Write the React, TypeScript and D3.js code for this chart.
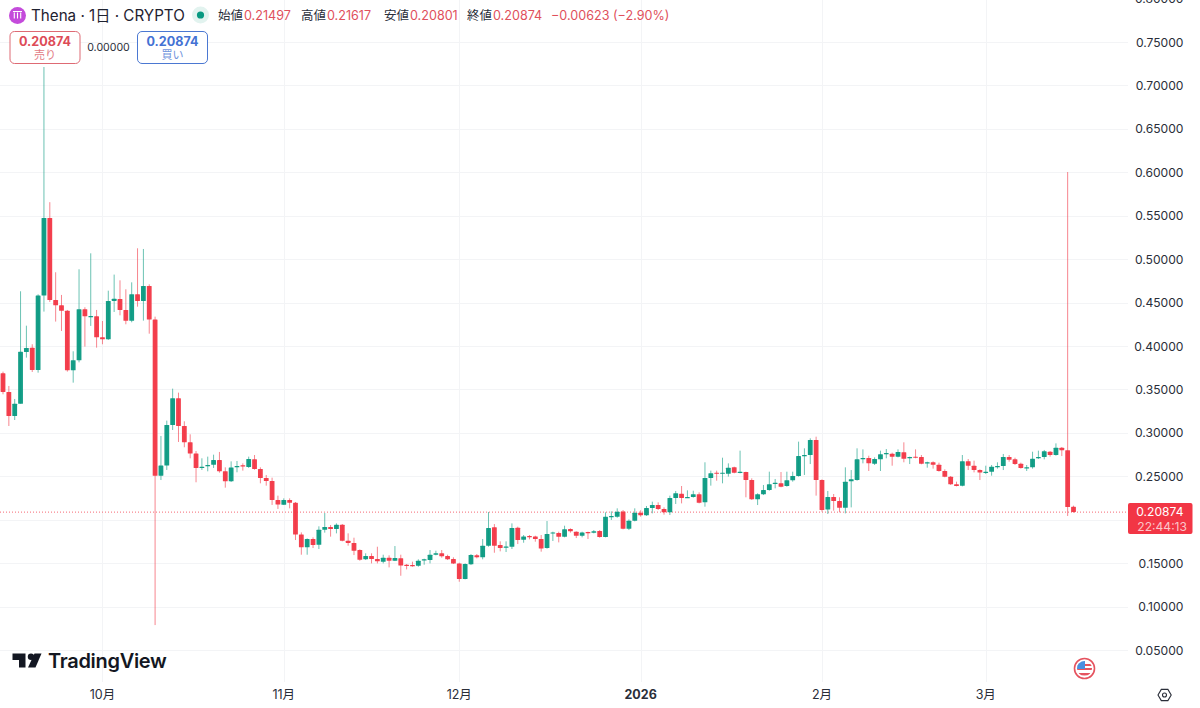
import React from "react";
import * as d3 from "d3";

const opens = [
.3686,.3471,.3194,.3336,.3931,.3981,.3724,.4580,.5474,.4530,.4469,.4407,.3720,.3835,.4423,.4338,.4342,.4100,.4077,.4519,
.4541,.4415,.4292,.4595,.4519,.4691,.4304,.2507,.2623,.3091,.3398,.3079,.2891,.2761,.2596,.2615,.2634,.2688,.2557,.2442,
.2603,.2626,.2607,.2695,.2584,.2480,.2446,.2227,.2173,.2227,.2196,.1831,.1682,.1778,.1712,.1885,.1916,.1893,.1943,.1758,
.1732,.1651,.1544,.1582,.1547,.1517,.1563,.1528,.1555,.1482,.1478,.1471,.1532,.1536,.1597,.1613,.1582,.1547,.1497,.1317,
.1486,.1590,.1567,.1701,.1912,.1709,.1678,.1689,.1908,.1770,.1812,.1808,.1778,.1674,.1847,.1847,.1805,.1893,.1862,.1816,
.1858,.1851,.1870,.1801,.2035,.2035,.2096,.1897,.1989,.2081,.2050,.2135,.2169,.2123,.2085,.2250,.2300,.2254,.2261,.2292,
.2200,.2480,.2542,.2534,.2530,.2603,.2545,.2549,.2457,.2235,.2292,.2342,.2419,.2419,.2388,.2453,.2503,.2733,.2745,.2918,
.2457,.2119,.2261,.2215,.2139,.2442,.2457,.2703,.2710,.2645,.2695,.2760,.2760,.2726,.2776,.2710,.2726,.2722,.2649,.2661,
.2634,.2561,.2496,.2407,.2392,.2672,.2622,.2572,.2545,.2553,.2607,.2618,.2722,.2695,.2645,.2595,.2603,.2707,.2722,.2783,
.2745,.2829,.2799,.21497];
const highs = [
.3705,.3540,.3390,.4630,.4234,.4020,.4595,.7212,.5656,.4849,.4588,.4415,.3939,.4883,.4446,.5067,.4415,.4288,.4637,.4822,
.4756,.4653,.4733,.5125,.5117,.4710,.4338,.2964,.3141,.3509,.3463,.3133,.2983,.2791,.2707,.2726,.2749,.2780,.2603,.2672,
.2676,.2649,.2726,.2745,.2603,.2515,.2484,.2277,.2246,.2246,.2204,.1854,.1785,.1797,.1924,.2077,.1939,.1958,.1950,.1843,
.1793,.1659,.1613,.1613,.1689,.1597,.1590,.1697,.1597,.1490,.1517,.1544,.1551,.1651,.1643,.1651,.1597,.1567,.1505,.1497,
.1605,.1605,.1778,.2089,.1950,.1751,.1751,.1958,.1920,.1824,.1824,.1816,.1824,.1985,.1862,.1862,.1931,.1901,.1866,.1862,
.1862,.1881,.1881,.2085,.2096,.2131,.2112,.2004,.2131,.2108,.2158,.2208,.2200,.2142,.2277,.2331,.2388,.2338,.2334,.2315,
.2661,.2565,.2565,.2714,.2649,.2611,.2795,.2553,.2476,.2304,.2400,.2553,.2469,.2549,.2553,.2553,.2899,.2822,.2937,.2956,
.2465,.2331,.2296,.2258,.2603,.2572,.2822,.2810,.2737,.2718,.2795,.2814,.2772,.2810,.2891,.2726,.2810,.2745,.2668,.2672,
.2657,.2580,.2503,.2438,.2745,.2699,.2680,.2580,.2622,.2630,.2661,.2757,.2745,.2714,.2657,.2630,.2783,.2795,.2803,.2791,
.2879,.2837,.6003,.21617];
const lows = [
.3444,.3079,.3148,.3336,.3866,.3701,.3693,.4396,.4507,.4281,.4173,.3705,.3578,.3812,.3993,.4231,.3981,.4020,.4070,.4392,
.4353,.4250,.4273,.4453,.4292,.4142,.0787,.2457,.2573,.3033,.2895,.2834,.2707,.2431,.2573,.2557,.2596,.2542,.2369,.2434,
.2546,.2565,.2596,.2576,.2419,.2392,.2170,.2124,.2169,.2131,.1766,.1597,.1597,.1674,.1663,.1851,.1805,.1843,.1751,.1701,
.1593,.1528,.1536,.1497,.1497,.1497,.1451,.1524,.1355,.1428,.1459,.1459,.1482,.1497,.1590,.1563,.1536,.1490,.1286,.1313,
.1478,.1555,.1544,.1689,.1620,.1636,.1628,.1663,.1720,.1735,.1774,.1747,.1632,.1666,.1755,.1739,.1797,.1851,.1789,.1797,
.1778,.1843,.1793,.1797,.1997,.2023,.1889,.1881,.1981,.2035,.2043,.2073,.2112,.2058,.2054,.2181,.2188,.2250,.2254,.2188,
.2150,.2392,.2449,.2419,.2496,.2534,.2534,.2258,.2227,.2169,.2284,.2334,.2361,.2373,.2380,.2438,.2496,.2515,.2641,.2277,
.2093,.2066,.2104,.2085,.2073,.2142,.2449,.2649,.2561,.2630,.2561,.2707,.2622,.2718,.2661,.2641,.2707,.2638,.2599,.2588,
.2553,.2488,.2400,.2384,.2384,.2572,.2545,.2457,.2526,.2507,.2588,.2572,.2668,.2630,.2588,.2561,.2588,.2699,.2695,.2726,
.2737,.2733,.2043,.20801];
const closes = [
.3471,.3194,.3336,.3935,.3977,.3724,.4580,.5474,.4530,.4469,.4407,.3720,.3835,.4423,.4342,.4346,.4100,.4077,.4519,.4545,
.4415,.4292,.4595,.4519,.4691,.4304,.2507,.2623,.3091,.3398,.3079,.2891,.2761,.2596,.2611,.2630,.2688,.2557,.2442,.2600,
.2619,.2619,.2699,.2584,.2480,.2446,.2227,.2174,.2227,.2196,.1831,.1682,.1778,.1709,.1885,.1916,.1893,.1943,.1758,.1732,
.1643,.1540,.1582,.1547,.1521,.1563,.1528,.1559,.1474,.1474,.1471,.1528,.1544,.1597,.1613,.1578,.1544,.1497,.1317,.1490,
.1593,.1567,.1701,.1904,.1701,.1674,.1693,.1904,.1766,.1808,.1797,.1778,.1670,.1835,.1854,.1805,.1889,.1866,.1816,.1854,
.1851,.1866,.1801,.2035,.2043,.2093,.1897,.1989,.2081,.2050,.2135,.2169,.2123,.2085,.2250,.2304,.2250,.2261,.2292,.2196,
.2480,.2534,.2534,.2542,.2599,.2542,.2553,.2457,.2235,.2292,.2342,.2407,.2426,.2380,.2453,.2503,.2733,.2745,.2918,.2457,
.2112,.2261,.2215,.2139,.2438,.2465,.2695,.2710,.2649,.2699,.2753,.2768,.2726,.2780,.2703,.2722,.2718,.2645,.2661,.2634,
.2561,.2496,.2407,.2388,.2672,.2622,.2572,.2545,.2553,.2611,.2618,.2722,.2691,.2641,.2595,.2603,.2703,.2722,.2787,.2745,
.2829,.2799,.2146,.20874];

const priceTicks = [0.05,0.1,0.15,0.2,0.25,0.3,0.35,0.4,0.45,0.5,0.55,0.6,0.65,0.7,0.75,0.8];
const monthLabels = ["10月","11月","12月","2026","2月","3月"];
const monthIndex = [17,48,78,109,140,168];
const ohlcLegend = [
  ["始値","0.21497"],["高値","0.21617"],["安値","0.20801"],["終値","0.20874"],
];
const lastPrice = 0.20874;

const UP = "#089981";
const DOWN = "#f23645";
const GRID = "#f3f4f6";
const FONT = "Inter, 'Noto Sans CJK JP', sans-serif";

export default function App() {
  const y = d3.scaleLinear().domain([0.05, 0.75]).range([650, 42]);
  const x = d3.scaleLinear().domain([0, 183]).range([3, 1073.5]);
  const bw = 4.8;
  const legendX = [218, 301, 384, 467];
  return (
    <svg width={1200} height={708} viewBox="0 0 1200 708"
      style={{ position: "absolute", left: 0, top: 0, background: "#fff", fontFamily: FONT }}>
      {priceTicks.map(t => (
        <line key={t} x1={0} x2={1128} y1={Math.round(y(t)) + 0.5} y2={Math.round(y(t)) + 0.5} stroke={GRID} />
      ))}
      {monthIndex.map(i => (
        <line key={i} x1={Math.round(x(i)) + 0.5} x2={Math.round(x(i)) + 0.5} y1={0} y2={682} stroke={GRID} />
      ))}
      <line x1={0} x2={1128} y1={y(lastPrice)} y2={y(lastPrice)} stroke={DOWN} strokeDasharray="1 2" strokeOpacity={0.75} />
      {opens.map((o, i) => {
        const c = closes[i];
        const col = c >= o ? UP : DOWN;
        const top = y(Math.max(o, c));
        const bot = y(Math.min(o, c));
        return (
          <g key={i}>
            <line x1={x(i)} x2={x(i)} y1={y(highs[i])} y2={y(lows[i])} stroke={col} strokeOpacity={0.6} strokeWidth={1} />
            <rect x={x(i) - bw / 2} width={bw} y={top} height={Math.max(bot - top, 1.2)} fill={col} fillOpacity={0.95} rx={0.5} />
          </g>
        );
      })}

      {priceTicks.map(t => (
        <text key={t} x={1183.5} y={y(t) + 4.5} textAnchor="end" fontSize={12.1} fill="#2a2e39">{t.toFixed(5)}</text>
      ))}
      {monthLabels.map((m, i) => (
        <text key={m} x={x(monthIndex[i])} y={699} textAnchor="middle" fontSize={12.5}
          fontWeight={m === "2026" ? 700 : 400} fill="#2a2e39">{m}</text>
      ))}

      <rect x={1128} y={503} width={64.5} height={31} rx={2} fill={DOWN} />
      <text x={1183.5} y={516} textAnchor="end" fontSize={12.1} fill="#fff">{lastPrice.toFixed(5)}</text>
      <text x={1187} y={530.5} textAnchor="end" fontSize={12.1} fill="#fff" fillOpacity={0.72}>22:44:13</text>

      {/* header */}
      <circle cx={17.5} cy={15.5} r={8.5} fill="#c44bdb" />
      <path d="M13 11.5h9M14.3 12.5v6M17.5 12.5v6M20.7 12.5v6" stroke="#fff" strokeWidth={1.1} fill="none" />
      <text x={31} y={21} fontSize={15.2} fill="#1f2230">Thena · 1日 · CRYPTO</text>
      <circle cx={200.5} cy={15} r={8.5} fill="#e2f3ef" />
      <circle cx={200.5} cy={15} r={3.6} fill={UP} />
      {ohlcLegend.map(([k, v], i) => (
        <g key={k}>
          <text x={legendX[i]} y={20} fontSize={12.5} fill="#2a2e39">{k}</text>
          <text x={legendX[i] + 26} y={20} fontSize={12.6} fill="#e0505c">{v}</text>
        </g>
      ))}
      <text x={551} y={20} fontSize={12.6} fill="#e0505c">−0.00623 (−2.90%)</text>

      <rect x={10} y={31.5} width={70} height={32} rx={4.5} fill="#fff" stroke="#de6a74" />
      <text x={45} y={46} textAnchor="middle" fontSize={12.6} fontWeight={700} fill="#dd4b57">0.20874</text>
      <text x={45} y={58.5} textAnchor="middle" fontSize={11} fill="#e27b84">売り</text>
      <text x={108.5} y={51} textAnchor="middle" fontSize={10.6} fill="#2a2e39">0.00000</text>
      <rect x={137.5} y={31.5} width={70} height={32} rx={4.5} fill="#fff" stroke="#4b78d2" />
      <text x={172.5} y={46} textAnchor="middle" fontSize={12.6} fontWeight={700} fill="#4472d4">0.20874</text>
      <text x={172.5} y={58.5} textAnchor="middle" fontSize={11} fill="#6f93dc">買い</text>

      {/* logo */}
      <path d="M12.5 653.5h13v14h-6.5v-7.5h-6.5z" fill="#131722" />
      <circle cx={31} cy={656.7} r={3.2} fill="#131722" />
      <path d="M34.5 653.5h7l-6 14h-7.5z" fill="#131722" />
      <text x={48} y={667.5} fontSize={20} fontWeight={600} fill="#131722" letterSpacing={-0.3}>TradingView</text>

      {/* flag */}
      <clipPath id="fl"><circle cx={1084.5} cy={668.5} r={7.5} /></clipPath>
      <circle cx={1084.5} cy={668.5} r={10} fill="#fff" stroke="#e5535f" strokeWidth={1.6} />
      <g clipPath="url(#fl)">
        <rect x={1076} y={660} width={18} height={18} fill="#fff" />
        <rect x={1076} y={664} width={18} height={2} fill="#e5535f" />
        <rect x={1076} y={668} width={18} height={2} fill="#e5535f" />
        <rect x={1076} y={673} width={18} height={2.5} fill="#e5535f" />
        <rect x={1076} y={660} width={9} height={9} fill="#4a8fe0" />
      </g>

      {/* settings */}
      <path d="M1158 695l3.3-5.6h6.6l3.3 5.6-3.3 5.6h-6.6z" fill="none" stroke="#2a2e39" strokeWidth={1.1} />
      <circle cx={1164.5} cy={695} r={2} fill="none" stroke="#2a2e39" strokeWidth={1.1} />
    </svg>
  );
}
